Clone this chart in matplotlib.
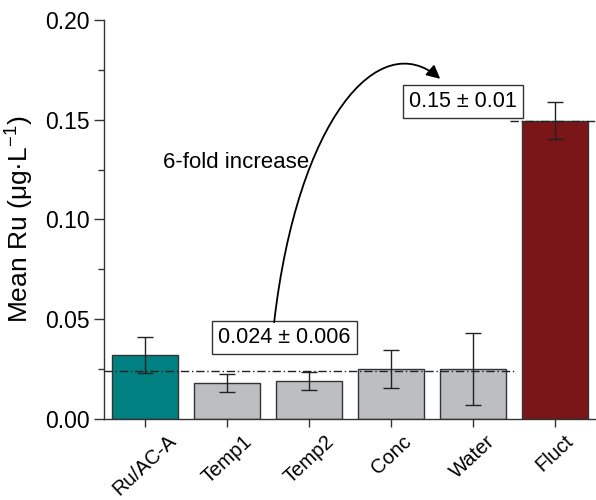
import matplotlib
matplotlib.use("Agg")
import matplotlib.pyplot as plt
from matplotlib.path import Path
from matplotlib.patches import FancyArrowPatch
from matplotlib.ticker import MultipleLocator
import numpy as np

plt.rcParams['font.family'] = ['Liberation Sans', 'DejaVu Sans']
plt.rcParams['mathtext.fontset'] = 'custom'
plt.rcParams['mathtext.rm'] = 'Liberation Sans'
plt.rcParams['mathtext.it'] = 'Liberation Sans:italic'

categories = ["Ru/AC-A", "Temp1", "Temp2", "Conc", "Water", "Fluct"]
means = [0.032, 0.018, 0.019, 0.025, 0.025, 0.1495]
errors = [0.009, 0.0045, 0.0045, 0.0097, 0.0182, 0.0093]
colors = ["#008080", "#BCBEC0", "#BCBEC0", "#BCBEC0", "#BCBEC0", "#7A1518"]
baseline_mean = 0.024
fluct_mean = 0.1495
label_base = "0.024 ± 0.006"
label_fluct = "0.15 ± 0.01"
label_fold = "6-fold increase"

fig = plt.figure(figsize=(5.96, 5.0), dpi=100)
ax = fig.add_axes([104/596, 81/500, 492/596, 399/500])

x = np.arange(len(categories))
ax.bar(x, means, width=0.8, color=colors, edgecolor="#333333", linewidth=1.0, zorder=2)
ax.errorbar(x, means, yerr=errors, fmt="none", ecolor="#222222", elinewidth=1.0,
            capsize=5.5, capthick=1.0, zorder=4)

ax.set_xlim(-0.5, 5.5)
ax.set_ylim(0, 0.20)

# reference lines
ax.plot([-0.5, 4.5], [baseline_mean, baseline_mean], color="#222222", lw=1.0,
        ls=(0, (6, 2, 1, 2)), zorder=3)
ax.plot([4.45, 5.5], [fluct_mean, fluct_mean], color="#222222", lw=1.0,
        ls=(0, (6, 2, 1, 2)), zorder=3)

ax.spines['top'].set_visible(False)
ax.spines['right'].set_visible(False)
for s in ['left', 'bottom']:
    ax.spines[s].set_color("#333333")
    ax.spines[s].set_linewidth(1.0)

ax.yaxis.set_minor_locator(MultipleLocator(0.025))
ax.set_yticks([0, 0.05, 0.10, 0.15, 0.20])
ax.set_yticklabels(["0.00", "0.05", "0.10", "0.15", "0.20"])
ax.tick_params(axis='y', which='major', direction='out', length=7, width=1.0,
               color="#333333", labelsize=16.5)
ax.tick_params(axis='y', which='minor', direction='out', length=4, width=1.0,
               color="#333333")
ax.set_xticks(x)
ax.set_xticklabels(categories, rotation=43, ha='center')
ax.tick_params(axis='x', direction='out', length=6, width=1.0, color="#333333",
               labelsize=14.5, pad=3)

ax.set_ylabel("Mean Ru (μg·L$^{\\mathregular{-1}}$)", fontsize=19, labelpad=6)

bbox = dict(boxstyle="square,pad=0.28", fc="white", ec="#333333", lw=1.0)
ax.text(1.70, 0.0408, label_base, fontsize=15.5, ha='center', va='center', bbox=bbox, zorder=5)
ax.text(3.88, 0.1592, label_fluct, fontsize=15.5, ha='center', va='center', bbox=bbox, zorder=5)
ax.text(0.215, 0.1285, label_fold, fontsize=16, ha='left', va='center')

verts = [(1.575, 0.0485), (1.86, 0.150), (2.85, 0.197), (3.60, 0.1705)]
codes = [Path.MOVETO, Path.CURVE4, Path.CURVE4, Path.CURVE4]
arrow = FancyArrowPatch(path=Path(verts, codes), arrowstyle="-|>,head_length=8,head_width=4",
                        color="black", lw=1.3, zorder=5)
ax.add_patch(arrow)

fig.savefig("out.png", dpi=100)
